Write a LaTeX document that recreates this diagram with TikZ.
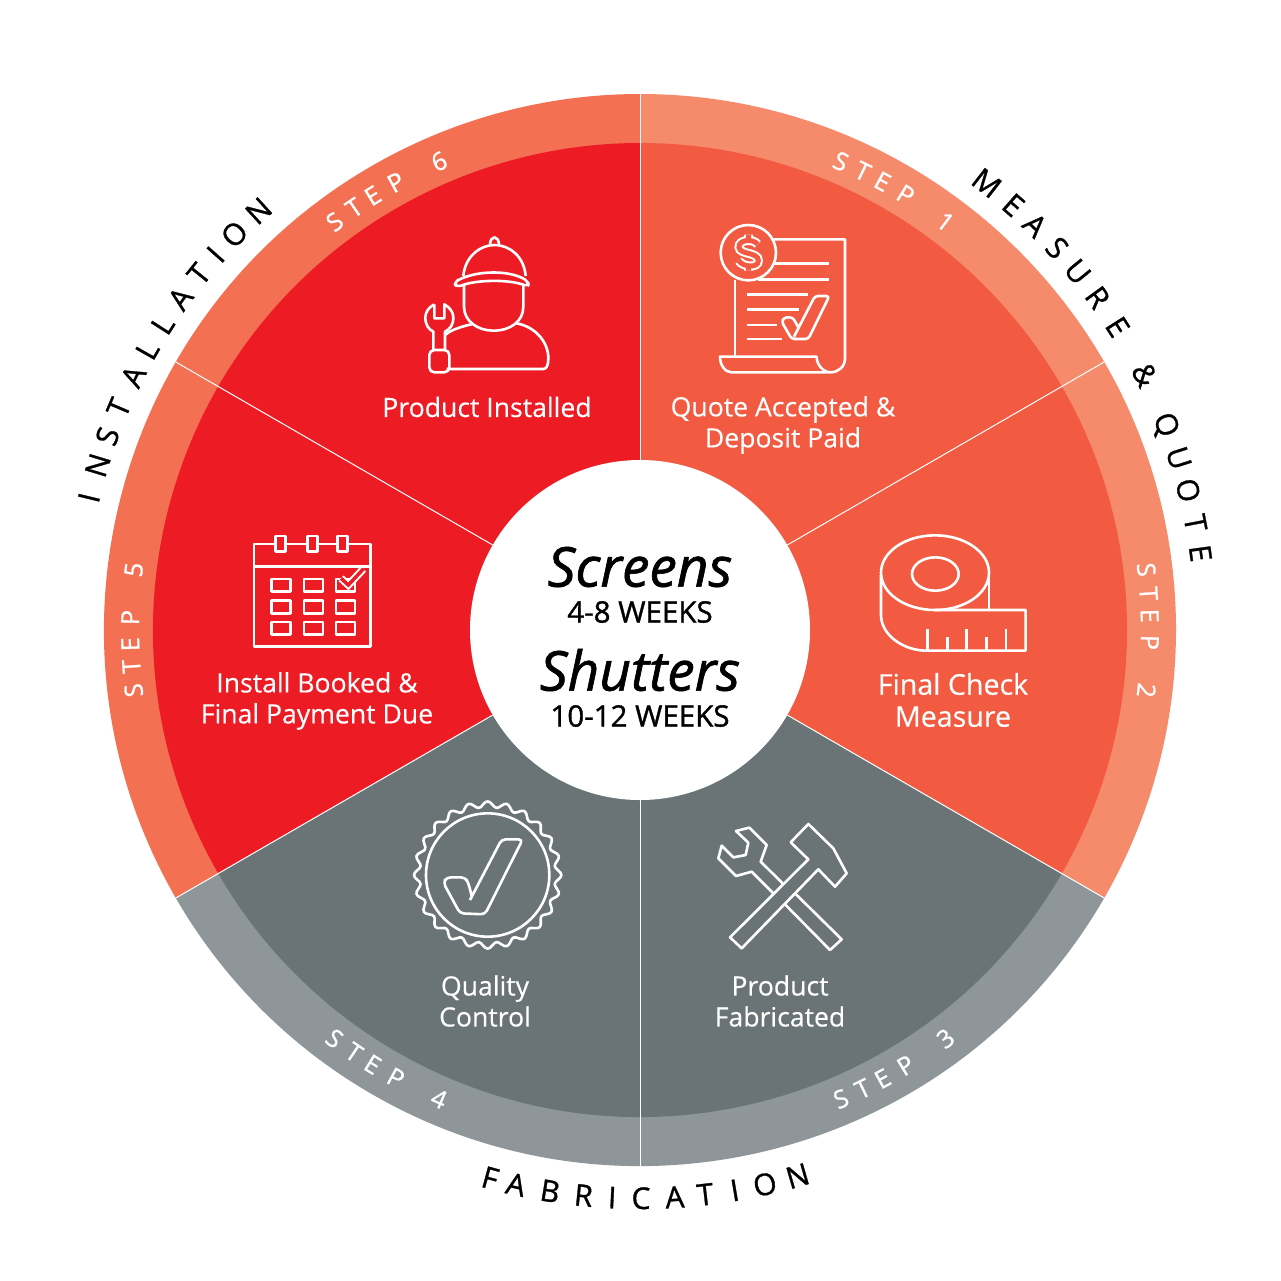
\documentclass[tikz,border=0pt]{standalone}
\usepackage{fontspec}
\setmainfont{Open Sans}
\newfontfamily\hubfont[FakeBold=1.2]{Open Sans}
\newfontfamily\rimfont[FakeBold=1]{Open Sans}
\newfontfamily\labelfont[FakeBold=0.3]{Open Sans}
\definecolor{measure-band}{HTML}{F68B6C}
\definecolor{measure-fill}{HTML}{F25A41}
\definecolor{factory-band}{HTML}{8E9699}
\definecolor{factory-fill}{HTML}{6A7477}
\definecolor{install-band}{HTML}{F37053}
\definecolor{install-fill}{HTML}{ED1C24}
\tikzstyle{step-letter}=[white, inner sep=0pt, text height=18pt, text depth=0pt, font=\rimfont\fontsize{25}{25}\selectfont]
\tikzstyle{phase-letter}=[black, inner sep=0pt, text height=22pt, text depth=0pt, font=\rimfont\fontsize{30}{30}\selectfont]
\tikzstyle{wheel-label}=[white, align=center, inner sep=0pt, font=\labelfont\fontsize{26.6}{31}\selectfont]
\tikzstyle{hub-title}=[black, inner sep=0pt, font=\hubfont\fontsize{55}{55}\selectfont\itshape]
\tikzstyle{hub-time}=[black, inner sep=0pt, font=\hubfont\fontsize{29.5}{29.5}\selectfont]
\tikzstyle{spoke}=[white, line width=1pt]
\tikzstyle{icon}=[white, line width=2.6pt, line join=round]
\newcommand{\steplabel}[3]{%
  \foreach \ch/\off [count=\i] in {S/6.8,T/4.1,E/1.6,P/-1.4,#1/-6.8} {
    \pgfmathsetmacro{\ang}{#2+#3*\off}
    \pgfmathsetmacro{\rot}{\ang-#3*90}
    \node (step#1-\i) at (\ang:510) [step-letter, rotate=\rot] {\ch};
  }}
\begin{document}
\begin{tikzpicture}[x=1pt, y=-1pt]
  \path[use as bounding box, fill=white] (0,0) rectangle (1281,1280);

  % wheel, with y pointing up
  \begin{scope}[shift={(640,630)}, x=1pt, y=1pt]
    \fill[measure-band] (0,0) -- (90:536) arc (90:-30:536) -- cycle;
    \fill[factory-band] (0,0) -- (-30:536) arc (-30:-150:536) -- cycle;
    \fill[install-band] (0,0) -- (-150:536) arc (-150:-270:536) -- cycle;
    \fill[measure-fill] (0,0) -- (90:487) arc (90:-30:487) -- cycle;
    \fill[factory-fill] (0,0) -- (-30:487) arc (-30:-150:487) -- cycle;
    \fill[install-fill] (0,0) -- (-150:487) arc (-150:-270:487) -- cycle;
    \steplabel{1}{60}{1}
    \steplabel{2}{0}{1}
    \steplabel{3}{-60}{-1}
    \steplabel{4}{-120}{-1}
    \steplabel{5}{180}{1}
    \steplabel{6}{120}{1}
    \foreach \ch/\ang [count=\i] in {M/52.2,E/48.7,A/45.7,S/42.5,U/39.3,R/36,E/32.4,\&/26.8,Q/21.3,U/17.7,O/14.3,T/10.9,E/7.8}
      \node (measure\i) at (\ang:566) [phase-letter, rotate=\ang-90] {\ch};
    \foreach \ch/\ang [count=\i] in {I/166.5,N/163.1,S/160,T/156.9,A/153.4,L/150.4,L/147.4,A/144.2,T/141.1,I/138.5,O/135.7,N/132.3}
      \node (install\i) at (\ang:567) [phase-letter, rotate=\ang-90] {\ch};
    \foreach \ch/\off [count=\i] in {F/-15.3,A/-12.6,B/-9.1,R/-5.7,I/-2.8,C/0.1,A/3.5,T/6.6,I/9.6,O/12.7,N/16.1}
      \node (factory\i) at (-90+\off:568) [phase-letter, rotate=\off] {\ch};
  \end{scope}

  \node (hub) at (640,630) [circle, fill=white, inner sep=0pt, minimum size=340pt] {};
  \coordinate (rim1) at (640,94);
  \coordinate (rim2) at (1104.2,362);
  \coordinate (rim3) at (1104.2,898);
  \coordinate (rim4) at (640,1166);
  \coordinate (rim5) at (175.8,898);
  \coordinate (rim6) at (175.8,362);
  \draw[spoke] (hub.90) -- (rim1);
  \draw[spoke] (hub.30) -- (rim2);
  \draw[spoke] (hub.-30) -- (rim3);
  \draw[spoke] (hub.-90) -- (rim4);
  \draw[spoke] (hub.-150) -- (rim5);
  \draw[spoke] (hub.150) -- (rim6);

  \node (screens) at (640,567) [hub-title] {Screens};
  \node (screens-time) at (640,612) [hub-time] {4-8 WEEKS};
  \node (shutters) at (640,670) [hub-title] {Shutters};
  \node (shutters-time) at (640,716) [hub-time] {10-12 WEEKS};

  \node (quote) at (783,425) [wheel-label] {Quote Accepted \&\\Deposit Paid};
  \node (check) at (953,700) [wheel-label, font=\labelfont\fontsize{28.6}{32}\selectfont] {Final Check\\Measure};
  \node (fabricated) at (780,1001) [wheel-label] {Product\\Fabricated};
  \node (quality) at (485,1001) [wheel-label] {Quality\\Control};
  \node (booked) at (317,701) [wheel-label] {Install Booked \&\\Final Payment Due};
  \node (installed) at (487,407) [wheel-label] {Product Installed};

  % invoice
  \begin{scope}[shift={(690,210)}, scale=1/3]
    \draw[icon] (250,88) -- (465,88) -- (465,445) .. controls (465,470) and (445,487) .. (422,487) -- (125,487) .. controls (105,487) and (90,465) .. (90,440) -- (380,440) .. controls (380,465) and (400,487) .. (422,487);
    \draw[icon] (135,210) -- (135,440);
    \draw[icon] (175,128) circle (83);
    \draw[icon] (255,160) -- (418,160);
    \draw[icon] (205,208) -- (418,208);
    \draw[icon] (170,253) -- (355,253);
    \draw[icon] (170,298) -- (327,298);
    \draw[icon] (170,345) -- (260,345);
    \draw[icon] (170,387) -- (275,387);
    \draw[icon, rounded corners=3pt] (325,352) -- (308,322) -- (283,322) -- (275,335) -- (305,387) -- (355,387) -- (418,258) -- (375,258) -- (312,380);
    \draw[white, line width=2pt, double=measure-fill, double distance=5pt] (203,103) .. controls (190,85) and (145,88) .. (147,112) .. controls (149,135) and (205,125) .. (205,152) .. controls (205,175) and (160,172) .. (146,152) (176,74) -- (176,92) (176,166) -- (176,182);
  \end{scope}

  % tape
  \begin{scope}[shift={(860,520)}, scale=1/3]
    \draw[icon] (225,158) ellipse (162 and 112);
    \draw[icon] (226,162) ellipse (70 and 50);
    \draw[icon] (63,165) -- (63,285) .. controls (63,345) and (130,392) .. (200,392) -- (497,392) -- (497,270) -- (225,270);
    \draw[icon] (387,165) -- (387,270);
    \foreach \x in {203,320,438} \draw[icon] (\x,392) -- (\x,328);
    \foreach \x in {262,380} \draw[icon] (\x,392) -- (\x,350);
  \end{scope}

  % tools
  \begin{scope}[shift={(700,810)}, scale=1/3]
    \draw[icon] (325,42) -- (400,115) -- (440,190) -- (405,230) -- (355,178) -- (125,415) -- (90,382) -- (325,148) -- (272,97) -- cycle;
    \draw[icon] (248,220) -- (182,155) -- (200,105) -- (148,53) -- (108,63) -- (145,98) -- (137,135) -- (100,142) -- (65,107) -- (55,145) -- (108,198) -- (155,185) -- (220,250);
    \draw[icon] (285,250) -- (425,388) -- (390,420) -- (255,283);
  \end{scope}

  % seal
  \begin{scope}[shift={(400,790)}, scale=1/3]
    \draw[icon] (263,255) circle (185);
    \draw[icon, shift={(263,255)}] plot[domain=0:360, samples=193, smooth] (\x:{212+9*cos(24*\x)}) -- cycle;
    \draw[icon, rounded corners=4pt] (215,318) -- (205,278) -- (195,262) -- (140,262) -- (130,278) -- (180,370) -- (255,373) -- (368,148) -- (305,148) -- (210,330);
  \end{scope}

  % calendar
  \begin{scope}[shift={(240,525)}, scale=1/3]
    \draw[icon] (42,57) rectangle (392,365);
    \draw[icon] (42,124) -- (392,124);
    \foreach \x in {107,202,292}
      \draw[icon, fill=install-fill] (\x,33) rectangle (\x+30,80);
    \foreach \y in {162,227,291} \foreach \x in {95,192,288}
      \draw[icon] (\x,\y) rectangle (\x+57,\y+38);
    \draw[white, line width=2pt, double=install-fill, double distance=3.5pt] (303,160) -- (325,180) -- (370,132);
  \end{scope}

  % worker
  \begin{scope}[shift={(400,220)}, scale=1/3]
    \draw[icon] (270,73) .. controls (272,45) and (295,45) .. (297,73);
    \draw[icon] (190,168) .. controls (195,110) and (240,75) .. (283,75) .. controls (330,75) and (372,110) .. (377,168);
    \draw[icon, rounded corners=4pt] (162,187) .. controls (230,150) and (330,150) .. (385,185) -- (385,200) .. controls (330,178) and (230,178) .. (170,202) -- cycle;
    \draw[icon] (192,195) -- (192,260) .. controls (192,305) and (235,332) .. (280,332) .. controls (330,332) and (370,305) .. (370,260) -- (370,195);
    \draw[icon] (135,345) .. controls (155,328) and (190,318) .. (215,313);
    \draw[icon] (350,310) .. controls (405,320) and (445,365) .. (445,415) .. controls (445,435) and (440,447) .. (430,447) -- (140,447);
    \draw[icon] (103,253) -- (103,295) -- (133,295) -- (133,253) .. controls (150,262) and (160,278) .. (160,292) .. controls (160,315) and (150,328) .. (135,335) -- (135,390);
    \draw[icon] (103,253) .. controls (85,262) and (76,278) .. (76,292) .. controls (76,315) and (86,328) .. (100,335) -- (100,390);
    \draw[icon, rounded corners=5pt] (88,390) rectangle (148,457);
  \end{scope}
\end{tikzpicture}
\end{document}
